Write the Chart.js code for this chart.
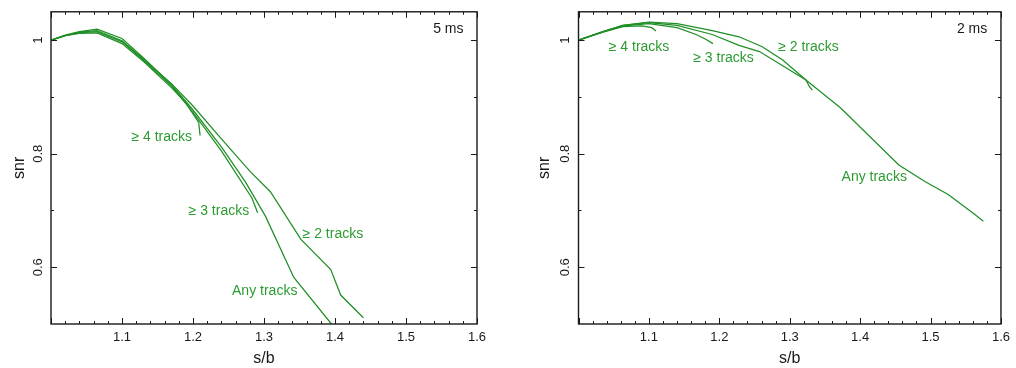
<!DOCTYPE html>
<html>
<head>
<meta charset="utf-8">
<script src="https://cdn.jsdelivr.net/npm/chart.js@4.4.0/dist/chart.umd.min.js"></script>
<style>
  body { margin: 0; background: #fff; }
  canvas { position: absolute; top: 0; }
</style>
</head>
<body>
<canvas id="win5" width="508" height="368" style="left:0"></canvas>
<canvas id="win2" width="508" height="368" style="left:508px"></canvas>
<script>
// 5 ms window: snr against s/b for each track requirement
const sb5Four = [1.0, 1.02, 1.04, 1.065, 1.1, 1.13, 1.17, 1.19, 1.208, 1.21];
const snr5Four = [1.0, 1.008, 1.012, 1.013, 0.994, 0.963, 0.916, 0.889, 0.855, 0.832];
const sb5Three = [1.0, 1.02, 1.04, 1.065, 1.1, 1.13, 1.17, 1.2, 1.24, 1.283, 1.291];
const snr5Three = [1.0, 1.008, 1.013, 1.015, 0.997, 0.965, 0.919, 0.873, 0.805, 0.722, 0.696];
const sb5Two = [1.0, 1.02, 1.04, 1.065, 1.1, 1.13, 1.17, 1.2, 1.24, 1.281, 1.309, 1.352, 1.394, 1.408, 1.44];
const snr5Two = [1.0, 1.008, 1.014, 1.017, 0.999, 0.967, 0.923, 0.884, 0.826, 0.768, 0.733, 0.649, 0.596, 0.551, 0.511];
const sb5Any = [1.0, 1.02, 1.04, 1.065, 1.1, 1.13, 1.17, 1.2, 1.24, 1.274, 1.302, 1.342, 1.395];
const snr5Any = [1.0, 1.009, 1.015, 1.0195, 1.003, 0.969, 0.921, 0.877, 0.812, 0.75, 0.69, 0.582, 0.5];

// 2 ms window
const sb2Four = [1.0, 1.035, 1.063, 1.09, 1.104, 1.11];
const snr2Four = [1.0, 1.014, 1.024, 1.025, 1.022, 1.016];
const sb2Three = [1.0, 1.035, 1.063, 1.1, 1.14, 1.167, 1.18, 1.191];
const snr2Three = [1.0, 1.015, 1.025, 1.029, 1.022, 1.01, 1.002, 0.994];
const sb2Two = [1.0, 1.035, 1.063, 1.1, 1.14, 1.19, 1.228, 1.261, 1.29, 1.323, 1.328, 1.332];
const snr2Two = [1.0, 1.015, 1.026, 1.032, 1.029, 1.017, 1.006, 0.9885, 0.965, 0.93, 0.918, 0.912];
const sb2Any = [1.0, 1.035, 1.063, 1.1, 1.14, 1.19, 1.228, 1.257, 1.323, 1.372, 1.455, 1.492, 1.525, 1.563, 1.575];
const snr2Any = [1.0, 1.015, 1.026, 1.031, 1.026, 1.01, 0.991, 0.98, 0.93, 0.881, 0.78, 0.751, 0.728, 0.693, 0.681];

// labelled ticks
const xTicks = [1.1, 1.2, 1.3, 1.4, 1.5, 1.6];
const yTicks = [0.6, 0.8, 1];

const LINE = '#1f8f26';
const NOTE = '#2c9c32';
const INK = '#1a1a1a';
Chart.defaults.font.family = "'Liberation Sans', Arial, Helvetica, sans-serif";

// box round the plot area with inward ticks on all four sides
const frame = {
  id: 'frame',
  afterDraw(chart) {
    const { ctx, chartArea: a, scales: { x, y } } = chart;
    ctx.save();
    ctx.strokeStyle = INK;
    ctx.lineWidth = 1;
    ctx.beginPath();
    for (let i = 0; i <= 30; i++) {
      const px = Math.round(x.getPixelForValue(1 + i * 0.02)) + 0.5;
      const len = i % 5 === 0 ? 6 : 3;
      ctx.moveTo(px, a.bottom); ctx.lineTo(px, a.bottom - len);
      ctx.moveTo(px, a.top); ctx.lineTo(px, a.top + len);
    }
    for (let i = 1; i <= 5; i++) {
      const v = 0.5 + i * 0.1;
      const py = Math.round(y.getPixelForValue(v)) + 0.5;
      const len = i % 2 === 1 ? 6 : 3;
      ctx.moveTo(a.left, py); ctx.lineTo(a.left + len, py);
      ctx.moveTo(a.right, py); ctx.lineTo(a.right - len, py);
    }
    ctx.stroke();
    ctx.lineWidth = 1.4;
    ctx.strokeRect(a.left, a.top, a.right - a.left, a.bottom - a.top);
    ctx.restore();
  }
};

// curve names and the window tag, placed in data units
const notes = {
  id: 'notes',
  afterDraw(chart, args, opts) {
    const { ctx, scales: { x, y } } = chart;
    ctx.save();
    ctx.font = "14px 'Liberation Sans', Arial, sans-serif";
    ctx.textBaseline = 'middle';
    opts.items.forEach(n => {
      ctx.fillStyle = n.color || NOTE;
      ctx.textAlign = n.align || 'center';
      ctx.fillText(n.text, x.getPixelForValue(n.x), y.getPixelForValue(n.y));
    });
    ctx.restore();
  }
};

function series(xs, ys) {
  return {
    data: xs.map((v, i) => ({ x: v, y: ys[i] })),
    showLine: true,
    borderColor: LINE,
    borderWidth: 1.25,
    pointRadius: 0,
    tension: 0
  };
}

function panel(id, sets, items, pad, titlePad) {
  return new Chart(document.getElementById(id), {
    type: 'scatter',
    data: { datasets: sets },
    options: {
      responsive: false,
      animation: false,
      layout: { padding: pad },
      plugins: {
        legend: { display: false },
        tooltip: { enabled: false },
        notes: { items: items }
      },
      scales: {
        x: {
          type: 'linear', min: 1.0, max: 1.6,
          afterBuildTicks: s => { s.ticks = xTicks.map(v => ({ value: v })); },
          afterFit: s => { s.height = 44; },
          grid: { display: false, drawTicks: false },
          border: { display: false },
          ticks: { padding: 6, color: INK, font: { size: 13 }, callback: v => String(v) },
          title: { display: true, text: 's/b', color: INK, font: { size: 16 }, padding: 0 }
        },
        y: {
          type: 'linear', min: 0.5, max: 1.05,
          afterBuildTicks: s => { s.ticks = yTicks.map(v => ({ value: v })); },
          afterFit: s => { s.width = 51; },
          grid: { display: false, drawTicks: false },
          border: { display: false },
          ticks: { padding: 4, color: INK, font: { size: 13 }, minRotation: 90, maxRotation: 90,
                   crossAlign: 'center', callback: v => String(v) },
          title: { display: true, text: 'snr', color: INK, font: { size: 16 }, padding: { top: titlePad, bottom: 0 } }
        }
      }
    },
    plugins: [frame, notes]
  });
}

drawPanels();

function drawPanels() {
  panel('win5',
    [series(sb5Four, snr5Four), series(sb5Three, snr5Three), series(sb5Two, snr5Two), series(sb5Any, snr5Any)],
    [
      { text: '\u2265 4 tracks', x: 1.156, y: 0.829 },
      { text: '\u2265 3 tracks', x: 1.2365, y: 0.699 },
      { text: '\u2265 2 tracks', x: 1.397, y: 0.659 },
      { text: 'Any tracks', x: 1.301, y: 0.558 },
      { text: '5 ms', x: 1.581, y: 1.019, align: 'right', color: INK }
    ],
    { left: 0, top: 9, right: 31, bottom: 0 }, 9.6);

  panel('win2',
    [series(sb2Four, snr2Four), series(sb2Three, snr2Three), series(sb2Two, snr2Two), series(sb2Any, snr2Any)],
    [
      { text: '\u2265 4 tracks', x: 1.086, y: 0.9885 },
      { text: '\u2265 3 tracks', x: 1.206, y: 0.968 },
      { text: '\u2265 2 tracks', x: 1.3266, y: 0.9885 },
      { text: 'Any tracks', x: 1.42, y: 0.758 },
      { text: '2 ms', x: 1.5805, y: 1.019, align: 'right', color: INK }
    ],
    { left: 19.5, top: 8, right: 11.7, bottom: 0 }, 7.1);
}
</script>
</body>
</html>
